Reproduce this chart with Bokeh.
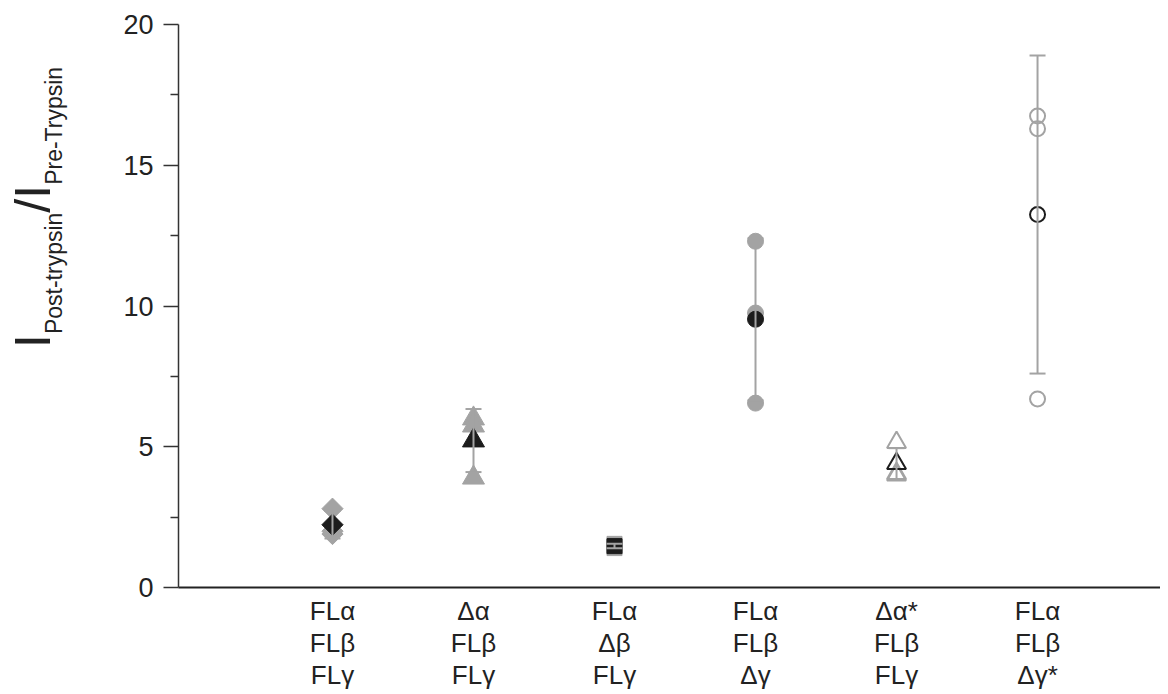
import numpy as np
from bokeh.plotting import figure
from bokeh.layouts import row
from bokeh.models import Range1d, FixedTicker, ColumnDataSource, Whisker, TeeHead, Div
from bokeh.embed import file_html
from bokeh.resources import INLINE

# ---------------- data ----------------
groups = [1, 2, 3, 4, 5, 6]
cat_line1 = ["FLα", "Δα", "FLα", "FLα", "Δα*", "FLα"]
cat_line2 = ["FLβ", "FLβ", "Δβ", "FLβ", "FLβ", "FLβ"]
cat_line3 = ["FLγ", "FLγ", "FLγ", "Δγ", "FLγ", "Δγ*"]

rep_values = [
    [2.8, 2.0, 1.9],
    [6.0, 5.75, 3.9],
    [1.55, 1.40, 1.46],
    [12.3, 9.75, 6.55],
    [5.15, 4.05, 4.0],
    [16.75, 16.3, 6.7],
]
means = [2.23, 5.22, 1.47, 9.53, 4.40, 13.25]
sds = [0.49, 1.12, 0.08, 2.88, 0.55, 5.65]

y_ticks = [0, 5, 10, 15, 20]
y_minor = [2.5, 7.5, 12.5, 17.5]

y_title_main = "I"
y_title_sub1 = "Post-trypsin"
y_title_sep = "/I"
y_title_sub2 = "Pre-Trypsin"

# ---------------- styles ----------------
GREY = "#a3a3a3"
BLACK = "#1c1c1c"
TXT = "#222222"
markers = ["square", "triangle", "square", "circle", "triangle", "circle"]
angles = [np.pi / 4, 0, 0, 0, 0, 0]
sizes = [15, 22, 15, 16, 19, 15]
filled = [True, True, True, True, False, False]
FONT = "Liberation Sans"

TOTAL_W, H = 1160, 692
LAB_W = 110
W = TOTAL_W - LAB_W
LEFT, TOP, RIGHT = 178 - LAB_W, 24, 0
BOTTOM = H - 588
X0, X1 = -0.092, 6.872
Y0, Y1 = 0, 20

p = figure(width=W, height=H, output_backend="svg", toolbar_location=None,
           x_range=Range1d(X0, X1), y_range=Range1d(Y0, Y1),
           min_border_left=LEFT, min_border_right=RIGHT,
           min_border_top=TOP, min_border_bottom=BOTTOM)
p.grid.visible = False
p.outline_line_color = None

# y axis
ya = p.yaxis[0]
ya.ticker = FixedTicker(ticks=y_ticks, minor_ticks=y_minor)
ya.major_tick_out = 15
ya.major_tick_in = 0
ya.minor_tick_out = 8
ya.minor_tick_in = 0
ya.axis_line_color = "#333333"
ya.axis_line_width = 1.5
ya.major_tick_line_color = "#333333"
ya.major_tick_line_width = 1.5
ya.minor_tick_line_color = "#333333"
ya.minor_tick_line_width = 1.5
ya.major_label_text_font = FONT
ya.major_label_text_font_size = "27px"
ya.major_label_text_color = TXT
ya.major_label_standoff = 10

# x axis: line + three-line category labels
xa = p.xaxis[0]
xa.ticker = FixedTicker(ticks=groups, minor_ticks=[])
xa.major_label_overrides = {g: "\n".join(t) for g, t in
                            zip(groups, zip(cat_line1, cat_line2, cat_line3))}
xa.major_tick_out = 0
xa.major_tick_in = 0
xa.minor_tick_out = 0
xa.minor_tick_in = 0
xa.axis_line_color = "#222222"
xa.axis_line_width = 2
xa.major_label_text_font = FONT
xa.major_label_text_font_size = "26px"
xa.major_label_text_color = TXT
xa.major_label_text_line_height = 1.07
xa.major_label_standoff = 8

# error bars
def draw_err(idx_list):
    src = ColumnDataSource(dict(
        base=[groups[i] for i in idx_list],
        upper=[means[i] + sds[i] for i in idx_list],
        lower=[means[i] - sds[i] for i in idx_list]))
    w = Whisker(source=src, base="base", upper="upper", lower="lower",
                dimension="height", line_color=GREY, line_width=2,
                upper_head=TeeHead(size=16, line_color=GREY, line_width=2),
                lower_head=TeeHead(size=16, line_color=GREY, line_width=2),
                level="glyph")
    p.add_layout(w)

draw_err([0, 1, 3, 4, 5])

for i, g in enumerate(groups):
    xs = [g] * len(rep_values[i])
    if filled[i]:
        p.scatter(xs, rep_values[i], marker=markers[i], size=sizes[i], angle=angles[i],
                  fill_color=GREY, line_color=GREY, line_width=1)
        p.scatter([g], [means[i]], marker=markers[i], size=sizes[i], angle=angles[i],
                  fill_color=BLACK, line_color=BLACK, line_width=1)
    else:
        p.scatter(xs, rep_values[i], marker=markers[i], size=sizes[i], angle=angles[i],
                  fill_color=None, line_color=GREY, line_width=2)
        p.scatter([g], [means[i]], marker=markers[i], size=sizes[i], angle=angles[i],
                  fill_color=None, line_color=BLACK, line_width=2)

draw_err([2])

# ---------------- y-axis title (rotated HTML with subscripts) ----------------
sub_style = "font-size:23px;vertical-align:-12px;"
title_html = (
    f'<div style="position:relative;width:{LAB_W}px;height:{H}px;overflow:visible;">'
    f'<div style="position:absolute;left:8px;top:348px;transform-origin:0 0;'
    f'transform:rotate(-90deg);white-space:nowrap;font-family:\'{FONT}\';'
    f'color:{TXT};font-size:50px;line-height:1;">'
    f'{y_title_main}<span style="{sub_style}">{y_title_sub1}</span>'
    f'{y_title_sep}<span style="{sub_style}">{y_title_sub2}</span>'
    f'</div></div>'
)
lab = Div(text=title_html, width=LAB_W, height=H, margin=0)

layout = row(lab, p, spacing=0)
open("out.html", "w").write(file_html(layout, INLINE))
